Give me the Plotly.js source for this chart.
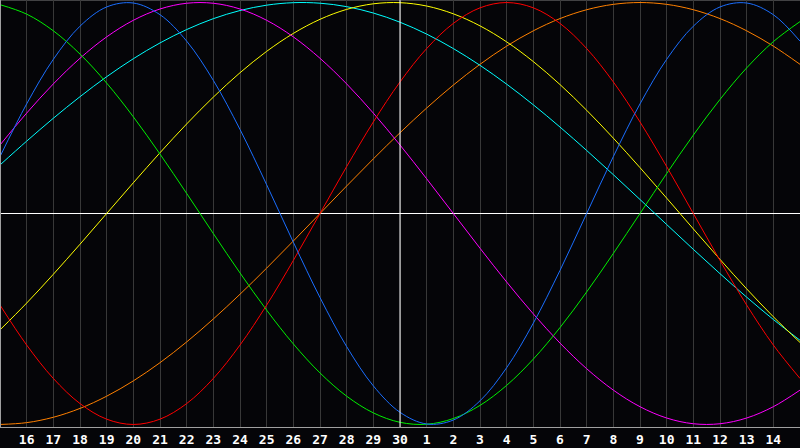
<!DOCTYPE html>
<html>
<head>
<meta charset="utf-8">
<script src="https://cdn.plot.ly/plotly-3.0.1.min.js"></script>
<style>html,body{margin:0;padding:0;background:#050508;}#chart{width:800px;height:448px;}</style>
</head>
<body>
<div id="chart"></div>
<script>
// Day labels from the 15th to the 15th of the next month (index 0..30)
const dayLabels = ['15','16','17','18','19','20','21','22','23','24','25','26','27','28','29','30',
                   '1','2','3','4','5','6','7','8','9','10','11','12','13','14','15'];

// Values, one per day (-1 .. 1)
const blueSeries = [0.2698,0.5196,0.7308,0.8879,0.9791,0.9977,0.9423,0.8170,0.6311,0.3984,0.1362,-0.1362,-0.3984,-0.6311,-0.8170,-0.9423,
                    -0.9977,-0.9791,-0.8879,-0.7308,-0.5196,-0.2698,0.0000,0.2698,0.5196,0.7308,0.8879,0.9791,0.9977,0.9423,0.8170];
const redSeries = [-0.4339,-0.6235,-0.7818,-0.9010,-0.9749,-1.0000,-0.9749,-0.9010,-0.7818,-0.6235,-0.4339,-0.2225,0.0000,0.2225,0.4339,0.6235,
                   0.7818,0.9010,0.9749,1.0000,0.9749,0.9010,0.7818,0.6235,0.4339,0.2225,0.0000,-0.2225,-0.4339,-0.6235,-0.7818];
const greenSeries = [0.9898,0.9450,0.8660,0.7557,0.6182,0.4582,0.2817,0.0951,-0.0951,-0.2817,-0.4582,-0.6182,-0.7557,-0.8660,-0.9450,-0.9898,
                     -0.9989,-0.9718,-0.9096,-0.8146,-0.6901,-0.5406,-0.3717,-0.1893,0.0000,0.1893,0.3717,0.5406,0.6901,0.8146,0.9096];
const magentaSeries = [0.3247,0.4759,0.6142,0.7357,0.8372,0.9158,0.9694,0.9966,0.9966,0.9694,0.9158,0.8372,0.7357,0.6142,0.4759,0.3247,
                       0.1646,0.0000,-0.1646,-0.3247,-0.4759,-0.6142,-0.7357,-0.8372,-0.9158,-0.9694,-0.9966,-0.9966,-0.9694,-0.9158,-0.8372];
const yellowSeries = [-0.5517,-0.4245,-0.2881,-0.1456,0.0000,0.1456,0.2881,0.4245,0.5517,0.6673,0.7686,0.8536,0.9204,0.9675,0.9940,0.9993,
                      0.9834,0.9465,0.8894,0.8135,0.7200,0.6112,0.4894,0.3572,0.2174,0.0730,-0.0730,-0.2174,-0.3572,-0.4894,-0.6112];
const cyanSeries = [0.2300,0.3430,0.4515,0.5537,0.6483,0.7336,0.8085,0.8720,0.9235,0.9621,0.9875,0.9993,0.9969,0.9805,0.9503,0.9067,
                    0.8504,0.7818,0.7024,0.6130,0.5151,0.4098,0.2988,0.1840,0.0663,-0.0522,-0.1700,-0.2852,-0.3966,-0.5023,-0.6009];
const orangeSeries = [-1.0000,-0.9914,-0.9659,-0.9239,-0.8660,-0.7934,-0.7071,-0.6088,-0.5000,-0.3827,-0.2588,-0.1305,0.0000,0.1305,0.2588,0.3827,
                      0.5000,0.6088,0.7071,0.7934,0.8660,0.9239,0.9659,0.9914,1.0000,0.9914,0.9659,0.9239,0.8660,0.7934,0.7071];

const seriesList = [
  {name:'orange', y: orangeSeries, color:'#ff8000'},
  {name:'cyan', y: cyanSeries, color:'#00ffff'},
  {name:'yellow', y: yellowSeries, color:'#ffff00'},
  {name:'magenta', y: magentaSeries, color:'#ff00ff'},
  {name:'green', y: greenSeries, color:'#00f000'},
  {name:'red', y: redSeries, color:'#ff0000'},
  {name:'blue', y: blueSeries, color:'#1a6eff'}
];

const xIdx = dayLabels.map((_, i) => i);
const tickText = dayLabels.map((d, i) => (i === 0 || i === dayLabels.length - 1) ? '' : d);

const traces = seriesList.map(s => ({
  type:'scatter', mode:'lines', x:xIdx, y:s.y, name:s.name,
  line:{color:s.color, width:1, shape:'spline', smoothing:1},
  hoverinfo:'skip'
}));

const layout = {
  width:800, height:448,
  margin:{l:0, r:0, t:0, b:21, pad:0},
  paper_bgcolor:'#050508', plot_bgcolor:'#050508',
  showlegend:false,
  xaxis:{
    range:[0, 30], tickvals:xIdx, ticktext:tickText,
    showgrid:true, gridcolor:'#383838', gridwidth:1,
    zeroline:false, showline:true, linecolor:'#a0a0a0', linewidth:1,
    ticks:'', tickfont:{family:'DejaVu Sans Mono', size:13, color:'#ffffff', weight:'bold'},
    fixedrange:true
  },
  yaxis:{
    range:[-1.012, 1.012], showgrid:false, showticklabels:false, ticks:'',
    zeroline:true, zerolinecolor:'#ffffff', zerolinewidth:1,
    showline:false, fixedrange:true
  },
  shapes:[
    {type:'line', xref:'x', yref:'paper', x0:15, x1:15, y0:0, y1:1, line:{color:'#ffffff', width:1}, layer:'above'},
    {type:'line', xref:'x', yref:'paper', x0:0, x1:0, y0:0, y1:1, line:{color:'#a0a0a0', width:2}, layer:'above'},
    {type:'line', xref:'paper', yref:'paper', x0:0, x1:1, y0:1, y1:1, line:{color:'#808080', width:1}, layer:'below'}
  ]
};

Plotly.newPlot('chart', traces, layout, {displayModeBar:false, staticPlot:true});
</script>
</body>
</html>
